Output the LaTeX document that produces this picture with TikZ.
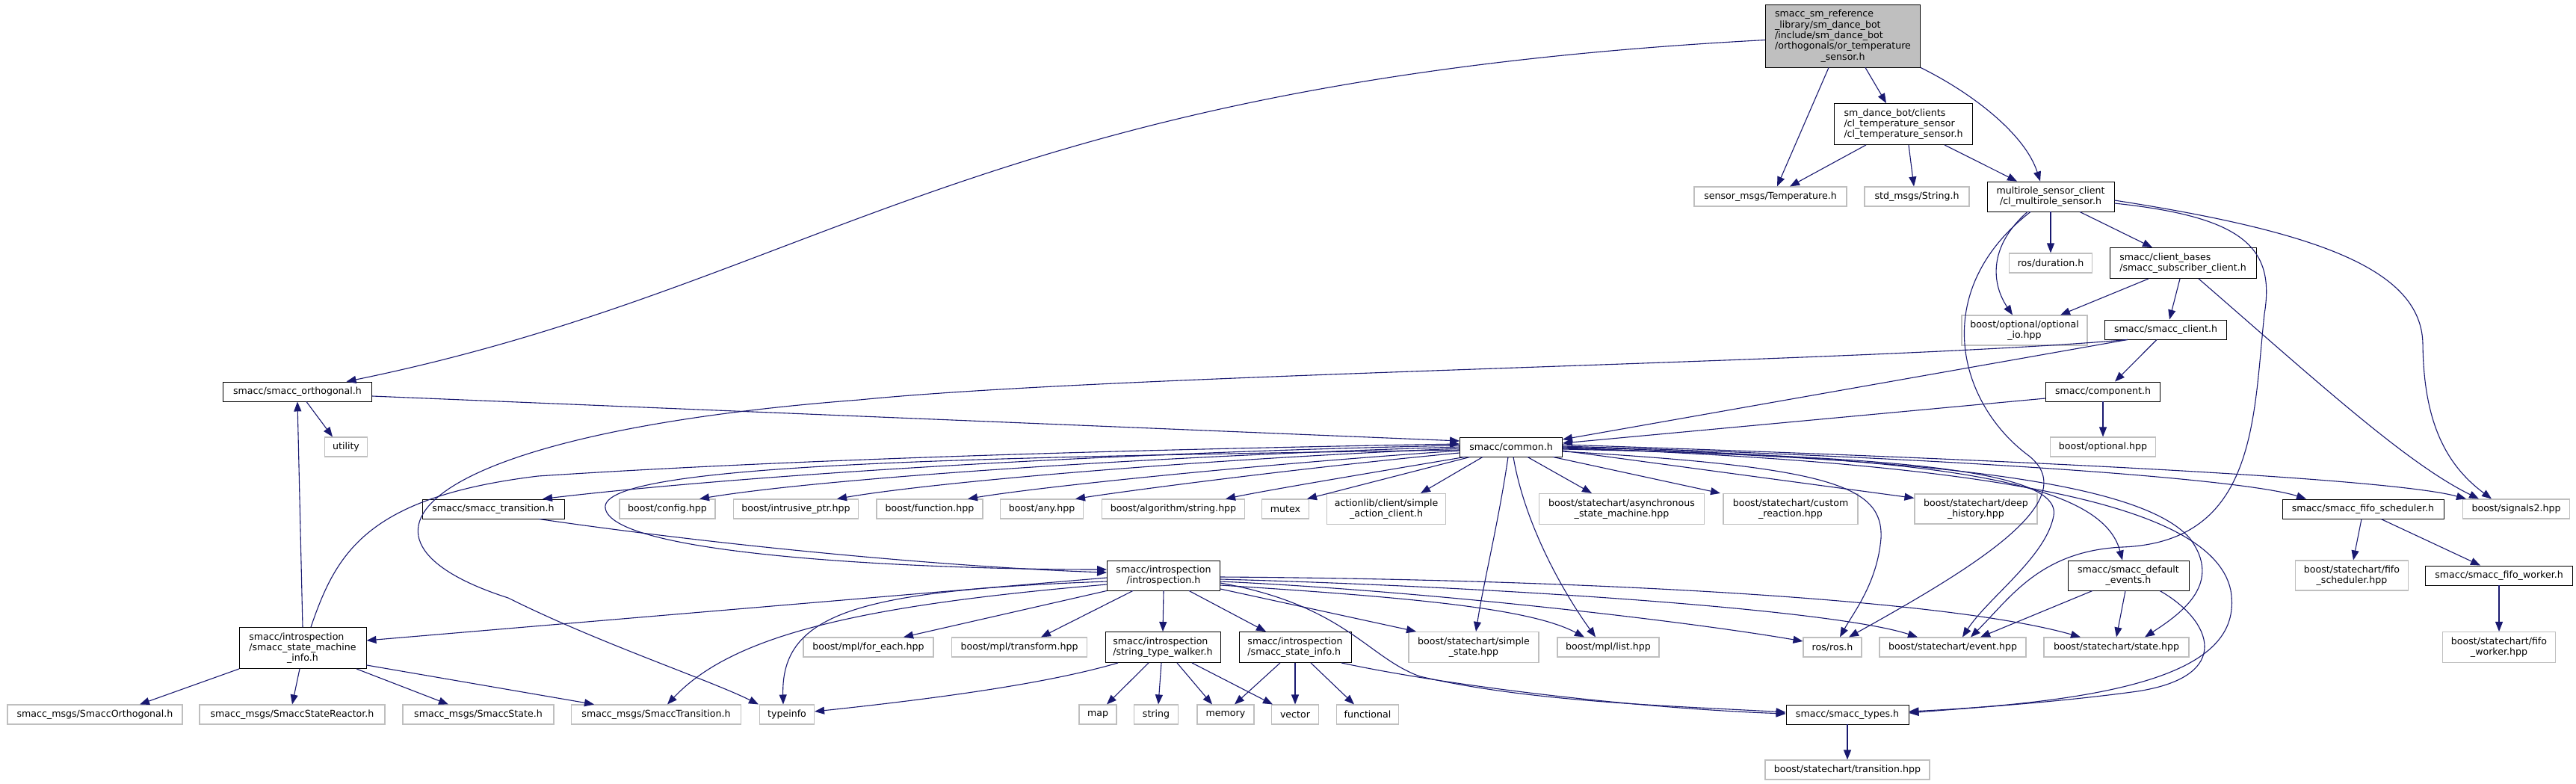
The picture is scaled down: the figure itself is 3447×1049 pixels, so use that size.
\documentclass[tikz,border=0pt]{standalone}
\usepackage{fontspec}
\newfontfamily\dvs{DejaVu Sans}
\usetikzlibrary{arrows.meta}
\definecolor{edgec}{HTML}{191970}
\definecolor{extc}{HTML}{BFBFBF}
\begin{document}
\begin{tikzpicture}[x=1pt,y=-1pt,
  hb/.style={draw=black, line width=0.9pt, fill=white, inner sep=0pt, align=center, font={\dvs\fontsize{12.6}{14.3}\selectfont}},
  xb/.style={hb, draw=extc, line width=1.1pt},
  sz/.style 2 args={minimum width=#1pt, minimum height=#2pt},
  e/.style={draw=edgec, line width=1.1pt, -{Triangle[length=13pt,width=10pt]}}]
\useasboundingbox[fill=white] (0,0) rectangle (3447,1049);
% ---------------- nodes ----------------
\node[hb, fill=extc, sz={207}{84}] (root) at (2466,48) {\begin{tabular}[b]{@{}l@{}}smacc\_sm\_reference\\\_library/sm\_dance\_bot\\/include/sm\_dance\_bot\\/orthogonals/or\_temperature\end{tabular}\\\_sensor.h};
\node[hb, align=left, sz={185}{55}] (clients) at (2547,166) {sm\_dance\_bot/clients\\/cl\_temperature\_sensor\\/cl\_temperature\_sensor.h};
\node[xb, sz={204}{26}] (temp) at (2369,263) {sensor\_msgs/Temperature.h};
\node[xb, sz={140}{26}] (strh) at (2565,263) {std\_msgs/String.h};
\node[hb, sz={170}{40}] (multi) at (2744,263) {multirole\_sensor\_client\\/cl\_multirole\_sensor.h};
\node[xb, sz={111}{26}] (dur) at (2744,352) {ros/duration.h};
\node[hb, align=left, sz={196}{41}] (cbases) at (2921,352) {smacc/client\_bases\\/smacc\_subscriber\_client.h};
\node[xb, sz={168}{40}] (optio) at (2709,442) {boost/optional/optional\\\_io.hpp};
\node[hb, sz={163}{26}] (sclient) at (2898,441) {smacc/smacc\_client.h};
\node[hb, sz={153}{26}] (comp) at (2814,524) {smacc/component.h};
\node[xb, sz={141}{26}] (opthpp) at (2814,598) {boost/optional.hpp};
\node[hb, sz={137}{26}] (common) at (2022,598) {smacc/common.h};
\node[hb, sz={199}{26}] (orth) at (398,524) {smacc/smacc\_orthogonal.h};
\node[xb, sz={57}{26}] (util) at (463,598) {utility};
\node[hb, sz={190}{26}] (strans) at (660,681) {smacc/smacc\_transition.h};
\node[xb, sz={128}{26}] (config) at (893,681) {boost/config.hpp};
\node[xb, sz={167}{26}] (intr) at (1065,681) {boost/intrusive\_ptr.hpp};
\node[xb, sz={142}{26}] (func) at (1244,681) {boost/function.hpp};
\node[xb, sz={111}{26}] (anyh) at (1394,681) {boost/any.hpp};
\node[xb, sz={191}{26}] (algo) at (1570,681) {boost/algorithm/string.hpp};
\node[xb, sz={63}{26}] (mutex) at (1720,681) {mutex};
\node[xb, sz={159}{41}] (alc) at (1855,681) {actionlib/client/simple\\\_action\_client.h};
\node[xb, sz={221}{41}] (async) at (2170,681) {boost/statechart/asynchronous\\\_state\_machine.hpp};
\node[xb, sz={180}{41}] (custom) at (2396,681) {boost/statechart/custom\\\_reaction.hpp};
\node[xb, sz={164}{40}] (deep) at (2644,681) {boost/statechart/deep\\\_history.hpp};
\node[hb, sz={216}{26}] (fsched) at (3162,681) {smacc/smacc\_fifo\_scheduler.h};
\node[xb, sz={143}{26}] (sig2) at (3367,681) {boost/signals2.hpp};
\node[hb, sz={151}{40}] (intro) at (1557,770) {smacc/introspection\\/introspection.h};
\node[hb, sz={162}{40}] (defev) at (2848,770) {smacc/smacc\_default\\\_events.h};
\node[xb, sz={151}{40}] (scfs) at (3147,770) {boost/statechart/fifo\\\_scheduler.hpp};
\node[hb, sz={197}{26}] (fworker) at (3344,770) {smacc/smacc\_fifo\_worker.h};
\node[hb, sz={170}{55}] (sminfo) at (405,867) {\begin{tabular}[b]{@{}l@{}}smacc/introspection\\/smacc\_state\_machine\end{tabular}\\\_info.h};
\node[xb, sz={174}{26}] (foreach) at (1162,866) {boost/mpl/for\_each.hpp};
\node[xb, sz={181}{26}] (transf) at (1364,866) {boost/mpl/transform.hpp};
\node[hb, align=left, sz={154}{41}] (walker) at (1556,866) {smacc/introspection\\/string\_type\_walker.h};
\node[hb, align=left, sz={150}{41}] (stinfo) at (1733,866) {smacc/introspection\\/smacc\_state\_info.h};
\node[xb, sz={174}{41}] (simple) at (1972,866) {boost/statechart/simple\\\_state.hpp};
\node[xb, sz={136}{26}] (mlist) at (2152,866) {boost/mpl/list.hpp};
\node[xb, sz={78}{26}] (rosh) at (2452,866) {ros/ros.h};
\node[xb, sz={196}{26}] (event) at (2613,866) {boost/statechart/event.hpp};
\node[xb, sz={194}{26}] (statehpp) at (2832,866) {boost/statechart/state.hpp};
\node[xb, sz={151}{41}] (scfw) at (3344,866) {boost/statechart/fifo\\\_worker.hpp};
\node[xb, sz={234}{26}] (sorth) at (127,956) {smacc\_msgs/SmaccOrthogonal.h};
\node[xb, sz={248}{26}] (sreact) at (391,956) {smacc\_msgs/SmaccStateReactor.h};
\node[xb, sz={202}{26}] (sstate) at (640,956) {smacc\_msgs/SmaccState.h};
\node[xb, sz={227}{26}] (strn) at (878,956) {smacc\_msgs/SmaccTransition.h};
\node[xb, sz={73}{26}] (typeinfo) at (1053,956) {typeinfo};
\node[xb, sz={50}{26}] (mapn) at (1469,956) {map};
\node[xb, sz={59}{26}] (stringn) at (1547,956) {string};
\node[xb, sz={76}{26}] (memory) at (1640,956) {memory};
\node[xb, sz={63}{26}] (vector) at (1733,956) {vector};
\node[xb, sz={83}{26}] (functional) at (1830,956) {functional};
\node[hb, sz={164}{26}] (types) at (2472,956) {smacc/smacc\_types.h};
\node[xb, sz={220}{26}] (trans) at (2472,1030) {boost/statechart/transition.hpp};
% ---------------- edges ----------------
% root
\draw[e] (root) .. controls (1300,110) and (1100,380) .. (orth);
\draw[e] ([xshift=30pt]root.south) -- ([xshift=-23pt]clients.north);
\draw[e] ([xshift=-19pt]root.south) -- ([xshift=9pt]temp.north);
\draw[e] (root.south east) .. controls (2640,125) and (2710,180) .. ([xshift=-14pt]multi.north);
% clients
\draw[e] ([xshift=-50pt]clients.south) -- ([xshift=26pt]temp.north);
\draw[e] ([xshift=7pt]clients.south) -- ([xshift=-4pt]strh.north);
\draw[e] ([xshift=55pt]clients.south) -- ([xshift=-45pt]multi.north);
% multirole
\draw[e] (multi) -- (dur);
\draw[e] ([xshift=39pt]multi.south) -- ([xshift=-41pt]cbases.north);
\draw[e] ([xshift=-31pt]multi.south) .. controls (2660,330) and (2665,380) .. ([xshift=-16pt]optio.north);
\draw[e] ([xshift=-27pt]multi.south) .. controls (2580,390) and (2620,540) .. (2715,610) .. controls (2790,670) and (2640,760) .. ([xshift=22pt]rosh.north);
\draw[e] ([yshift=-9pt]multi.east) .. controls (3000,290) and (3045,330) .. (3030,420) .. controls (3015,560) and (3020,725) .. (2840,732) .. controls (2730,737) and (2690,800) .. ([xshift=24pt]event.north);
\draw[e] ([yshift=-5pt]multi.east) .. controls (3100,310) and (3240,360) .. (3242,460) .. controls (3243,560) and (3270,620) .. ([xshift=-33pt]sig2.north);
% client bases
\draw[e] ([xshift=-46pt]cbases.south) -- ([xshift=48pt]optio.north);
\draw[e] ([xshift=-4pt]cbases.south) -- ([xshift=5pt]sclient.north);
\draw[e] ([xshift=21pt]cbases.south) .. controls (3100,510) and (3220,620) .. ([xshift=-50pt]sig2.north);
% smacc client
\draw[e] ([xshift=-12pt]sclient.south) -- ([xshift=16pt]comp.north);
\draw[e] ([xshift=-51pt]sclient.south) -- ([yshift=10pt]common.east);
\draw[e] ([xshift=-51pt]sclient.south) .. controls (2500,485) and (1500,500) .. (1150,535) .. controls (560,580) and (430,720) .. (680,800) .. controls (800,860) and (950,910) .. ([xshift=-38pt]typeinfo.north);
% component
\draw[e] (comp) -- (opthpp);
\draw[e] ([yshift=-9pt]comp.west) -- ([yshift=5pt]common.east);
% orthogonal
\draw[e] ([xshift=12pt]orth.south) -- ([xshift=-18pt]util.north);
\draw[e] ([yshift=-6pt]orth.east) -- ([yshift=8pt]common.west);
% state machine info
\draw[e] (sminfo.north) -- (orth.south);
\draw[e] ([xshift=11pt]sminfo.north) .. controls (450,740) and (490,665) .. (720,637) .. controls (1100,612) and (1600,600) .. ([yshift=4pt]common.west);
\draw[e] ([xshift=-85pt]sminfo.south) -- ([xshift=60pt]sorth.north);
\draw[e] ([xshift=-4pt]sminfo.south) -- (sreact.north);
\draw[e] ([xshift=72pt]sminfo.south) -- ([xshift=-40pt]sstate.north);
\draw[e] ([yshift=5pt]sminfo.south east) -- ([xshift=-83pt]strn.north);
% smacc transition
\draw[e] ([xshift=61pt]strans.south) .. controls (1000,735) and (1300,760) .. ([yshift=4pt]intro.west);
% common
\draw[e] ([yshift=2pt]common.west) .. controls (1500,605) and (1000,635) .. ([xshift=66pt]strans.north);
\draw[e] ([yshift=0pt]common.west) .. controls (1550,610) and (1100,640) .. ([xshift=43pt]config.north);
\draw[e] ([yshift=-2pt]common.west) .. controls (1600,615) and (1250,645) .. ([xshift=55pt]intr.north);
\draw[e] ([yshift=-5pt]common.west) .. controls (1700,620) and (1400,650) .. ([xshift=51pt]func.north);
\draw[e] ([yshift=-8pt]common.west) .. controls (1750,625) and (1520,655) .. ([xshift=45pt]anyh.north);
\draw[e] ([xshift=-62pt]common.south) .. controls (1850,630) and (1700,655) .. ([xshift=70pt]algo.north);
\draw[e] ([xshift=-55pt]common.south) -- ([xshift=29pt]mutex.north);
\draw[e] ([xshift=-38pt]common.south) -- ([xshift=46pt]alc.north);
\draw[e] ([xshift=22pt]common.south) -- ([xshift=-40pt]async.north);
\draw[e] ([xshift=56pt]common.south) -- ([xshift=-94pt]custom.north);
\draw[e] ([yshift=-5pt]common.east) -- ([yshift=-6pt]deep.north west);
\draw[e] ([xshift=-4pt]common.south) .. controls (2005,700) and (1985,780) .. ([xshift=3pt]simple.north);
\draw[e] ([xshift=3pt]common.south) .. controls (2040,700) and (2090,790) .. ([xshift=-17pt]mlist.north);
\draw[e] ([yshift=-6pt]common.east) .. controls (2450,625) and (2520,650) .. (2517,720) .. controls (2512,780) and (2480,820) .. ([xshift=10pt]rosh.north);
\draw[e] ([yshift=-3pt]common.east) .. controls (2500,610) and (2760,625) .. (2748,690) .. controls (2738,745) and (2660,800) .. ([xshift=13pt]event.north);
\draw[e] ([yshift=-2pt]common.east) .. controls (2550,612) and (2860,640) .. (2930,720) .. controls (2975,780) and (2920,820) .. ([xshift=38pt]statehpp.north);
\draw[e] ([yshift=-1pt]common.east) .. controls (2650,620) and (2960,670) .. (2985,790) .. controls (3000,880) and (2900,935) .. ([yshift=4pt]types.east);
\draw[e] ([yshift=0pt]common.east) .. controls (2550,612) and (2810,635) .. ([xshift=-8pt]defev.north);
\draw[e] ([yshift=1pt]common.east) .. controls (2600,612) and (3000,640) .. ([xshift=-76pt]fsched.north);
\draw[e] ([yshift=3pt]common.east) .. controls (2700,615) and (3200,640) .. ([xshift=-67pt]sig2.north);
\draw[e] ([yshift=-4pt]common.west) .. controls (1300,612) and (800,620) .. (810,680) .. controls (820,745) and (1250,762) .. ([yshift=8pt]intro.west);
% introspection
\draw[e] ([yshift=-3pt]intro.west) -- ([yshift=10pt]sminfo.east);
\draw[e] ([yshift=-12pt]intro.west) .. controls (1150,810) and (980,850) .. ([xshift=15pt]strn.north);
\draw[e] ([yshift=-8pt]intro.west) .. controls (1150,790) and (1045,820) .. ([xshift=-5pt]typeinfo.north);
\draw[e] (intro.south west) -- ([xshift=47pt]foreach.north);
\draw[e] ([xshift=-41pt]intro.south) -- ([xshift=29pt]transf.north);
\draw[e] (intro.south) -- (walker.north);
\draw[e] ([xshift=34pt]intro.south) -- ([xshift=-39pt]stinfo.north);
\draw[e] ([yshift=-18pt]intro.east) -- ([xshift=-77pt]simple.north);
\draw[e] ([yshift=-10pt]intro.east) .. controls (1800,810) and (1830,880) .. (1900,905) .. controls (2050,940) and (2250,945) .. ([yshift=3pt]types.west);
\draw[e] ([yshift=-13pt]intro.east) .. controls (1900,800) and (2050,815) .. ([xshift=-32pt]mlist.north);
\draw[e] ([yshift=-8pt]intro.east) .. controls (1900,790) and (2250,830) .. ([yshift=8pt]rosh.west);
\draw[e] ([yshift=-5pt]intro.east) .. controls (2000,785) and (2450,815) .. ([xshift=-47pt]event.north);
\draw[e] ([yshift=-2pt]intro.east) .. controls (2100,775) and (2600,800) .. ([xshift=-48pt]statehpp.north);
% string type walker
\draw[e] ([xshift=-60pt]walker.south) .. controls (1400,915) and (1250,935) .. ([yshift=4pt]typeinfo.east);
\draw[e] ([xshift=-19pt]walker.south) -- ([xshift=12pt]mapn.north);
\draw[e] ([xshift=-2pt]walker.south) -- ([xshift=3pt]stringn.north);
\draw[e] ([xshift=19pt]walker.south) -- ([xshift=-18pt]memory.north);
\draw[e] ([xshift=39pt]walker.south) -- ([xshift=-30pt]vector.north);
% state info
\draw[e] ([xshift=-20pt]stinfo.south) -- ([xshift=12pt]memory.north);
\draw[e] (stinfo.south) -- (vector.north);
\draw[e] ([xshift=21pt]stinfo.south) -- ([xshift=-18pt]functional.north);
\draw[e] ([xshift=62pt]stinfo.south) .. controls (1950,920) and (2200,948) .. ([yshift=1pt]types.west);
% default events
\draw[e] ([xshift=-48pt]defev.south) -- ([xshift=37pt]event.north);
\draw[e] ([xshift=-4pt]defev.south) -- (statehpp.north);
\draw[e] ([xshift=42pt]defev.south) .. controls (2960,830) and (2990,905) .. (2860,925) .. controls (2750,940) and (2650,946) .. ([yshift=2pt]types.east);
% fifo
\draw[e] ([xshift=-2pt]fsched.south) -- ([xshift=2pt]scfs.north);
\draw[e] ([xshift=24pt]fsched.south) -- ([xshift=-25pt]fworker.north);
\draw[e] (fworker) -- (scfw);
% types
\draw[e] (types) -- (trans);
\end{tikzpicture}
\end{document}
